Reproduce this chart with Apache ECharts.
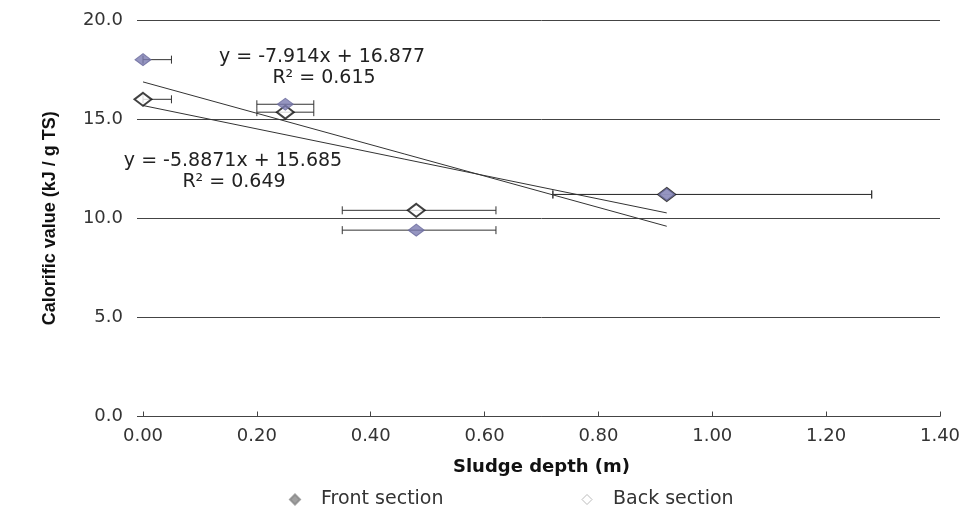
<!DOCTYPE html>
<html><head><meta charset="utf-8">
<script src="https://cdn.jsdelivr.net/npm/echarts@6/dist/echarts.min.js"></script>
<style>html,body{margin:0;padding:0;background:#fff}#c{width:966px;height:509px}</style>
</head><body><div id="c"></div>
<script>
// Data
var depthX = [0.00, 0.25, 0.48, 0.92];
var frontY = [18.0, 15.75, 9.4, 11.2];
var backY = [16.0, 15.35, 10.4, 11.2];
var errLow = [0.00, 0.20, 0.35, 0.72];
var errHigh = [0.05, 0.30, 0.62, 1.28];
var frontTrend = [[0, 16.877], [0.92, 9.596]];
var backTrend = [[0, 15.685], [0.92, 10.269]];
var frontEq = ['y = -7.914x + 16.877', 'R² = 0.615'];
var backEq = ['y = -5.8871x + 15.685', 'R² = 0.649'];

var frontPts = depthX.map(function(x,i){return [x, frontY[i]];});
var backPts = depthX.map(function(x,i){return [x, backY[i]];});
var frontErr = depthX.map(function(x,i){return [errLow[i], errHigh[i], frontY[i]];});
var backErr = depthX.map(function(x,i){return [errLow[i], errHigh[i], backY[i]];});

function errRender(params, api){
  var lo = api.coord([api.value(0), api.value(2)]);
  var hi = api.coord([api.value(1), api.value(2)]);
  var h = 4;
  var st = {stroke:'#333', lineWidth:1};
  return {type:'group', children:[
    {type:'line', shape:{x1:lo[0],y1:lo[1],x2:hi[0],y2:hi[1]}, style:st},
    {type:'line', shape:{x1:lo[0],y1:lo[1]-h,x2:lo[0],y2:lo[1]+h}, style:st},
    {type:'line', shape:{x1:hi[0],y1:hi[1]-h,x2:hi[0],y2:hi[1]+h}, style:st}
  ]};
}

var font = 'DejaVu Sans, sans-serif';
var chart = echarts.init(document.getElementById('c'));
chart.setOption({
  backgroundColor:'#fff',
  animation:false,
  grid:{left:143, right:26, top:20, bottom:92.5},
  xAxis:{type:'value', min:0, max:1.4, interval:0.2,
    name:'Sludge depth (m)', nameLocation:'middle', nameGap:42,
    nameTextStyle:{fontFamily:font, fontSize:18, fontWeight:'bold', color:'#111'},
    axisLine:{show:true, onZero:false, lineStyle:{color:'#444', width:1}},
    axisTick:{show:true, inside:true, length:5, lineStyle:{color:'#444'}},
    axisLabel:{fontFamily:font, fontSize:18, color:'#333', margin:11, formatter:function(v){return v.toFixed(2);}},
    splitLine:{show:false}},
  yAxis:{type:'value', min:0, max:20, interval:5,
    name:'Calorific value (kJ / g TS)', nameLocation:'middle', nameGap:84, nameRotate:90,
    nameTextStyle:{fontFamily:'Liberation Sans Narrow, Arial Narrow, Liberation Sans, sans-serif', fontSize:18, fontWeight:'bold', color:'#111'},
    axisLine:{show:false},
    axisTick:{show:true, length:6, lineStyle:{color:'#444'}},
    axisLabel:{fontFamily:font, fontSize:18, color:'#333', margin:20, formatter:function(v){return v.toFixed(1);}},
    splitLine:{show:true, lineStyle:{color:'#444', width:1}}},
  legend:{top:485, left:284, itemGap:138, itemWidth:10, itemHeight:10,
    textStyle:{fontFamily:font, fontSize:19, color:'#333', padding:[0,0,0,16]},
    data:[{name:'Front section', icon:'diamond', itemStyle:{color:'#888', borderColor:'#888'}},
          {name:'Back section', icon:'diamond', itemStyle:{color:'#fff', borderColor:'#aaa', borderWidth:1}}]},
  graphic:[
    {type:'text', x:322, y:57, style:{text:frontEq[0], font:'19px '+font, fill:'#222', align:'center', verticalAlign:'middle'}},
    {type:'text', x:324, y:78, style:{text:frontEq[1], font:'19px '+font, fill:'#222', align:'center', verticalAlign:'middle'}},
    {type:'text', x:233, y:161, style:{text:backEq[0], font:'19px '+font, fill:'#222', align:'center', verticalAlign:'middle'}},
    {type:'text', x:234, y:182, style:{text:backEq[1], font:'19px '+font, fill:'#222', align:'center', verticalAlign:'middle'}}
  ],
  series:[
    {name:'frontTrend', type:'line', data:frontTrend, symbol:'none', silent:true, lineStyle:{color:'#333', width:1}, z:3},
    {name:'backTrend', type:'line', data:backTrend, symbol:'none', silent:true, lineStyle:{color:'#333', width:1}, z:3},
    {name:'frontErr', type:'custom', renderItem:errRender, data:frontErr, encode:{x:[0,1], y:2}, z:4, silent:true},
    {name:'backErr', type:'custom', renderItem:errRender, data:backErr, encode:{x:[0,1], y:2}, z:4, silent:true},
    {name:'Back section', type:'scatter', data:backPts, symbol:'diamond', symbolSize:[17,13],
      itemStyle:{color:'#fff', borderColor:'#111', borderWidth:2}, z:5},
    {name:'Front section', type:'scatter', data:frontPts, symbol:'diamond', symbolSize:[16,12],
      itemStyle:{color:'#7b7bb0', borderColor:'#6a6a9c', borderWidth:1}, z:6}
  ]
});
</script></body></html>
